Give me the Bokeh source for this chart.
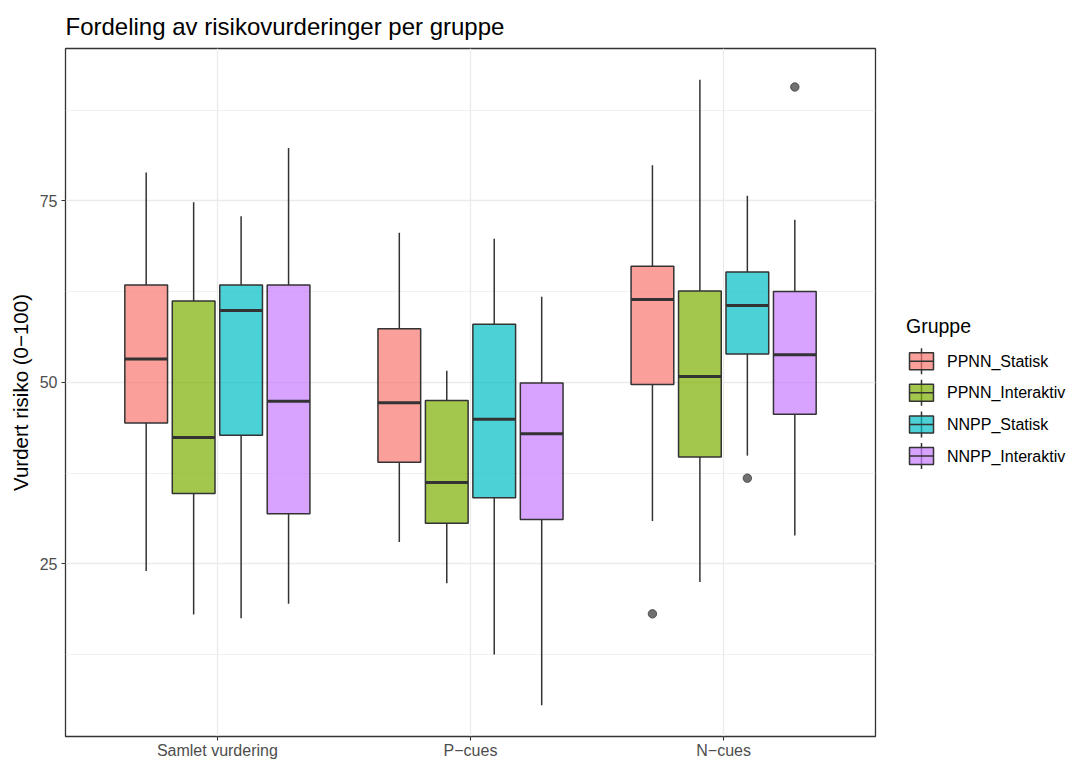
from bokeh.plotting import figure
from bokeh.models import ColumnDataSource, Range1d, FixedTicker
from bokeh.layouts import row
from bokeh.embed import file_html
from bokeh.resources import INLINE
from bokeh.core.properties import value

# ---------------- data ----------------
categories = ["Samlet vurdering", "P\u2212cues", "N\u2212cues"]
groups = ["PPNN_Statisk", "PPNN_Interaktiv", "NNPP_Statisk", "NNPP_Interaktiv"]
colors = ["#F8766D", "#7CAE00", "#00BFC4", "#C77CFF"]

# one row per group, one value per category
whisker_low = [[24.0, 28.0, 30.9], [18.0, 22.3, 22.5], [17.5, 12.5, 39.9], [19.5, 5.5, 28.9]]
q1 = [[44.4, 39.0, 49.7], [34.7, 30.6, 39.7], [42.7, 34.1, 53.9], [31.9, 31.1, 45.6]]
median = [[53.2, 47.2, 61.4], [42.4, 36.2, 50.8], [59.9, 44.9, 60.6], [47.4, 42.9, 53.8]]
q3 = [[63.4, 57.4, 66.0], [61.2, 47.5, 62.6], [63.4, 58.0, 65.2], [63.4, 49.9, 62.5]]
whisker_high = [[78.9, 70.6, 79.9], [74.8, 51.6, 91.7], [72.9, 69.8, 75.7], [82.3, 61.8, 72.4]]

outlier_group = ["PPNN_Statisk", "NNPP_Statisk", "NNPP_Interaktiv"]
outlier_category = ["N\u2212cues", "N\u2212cues", "N\u2212cues"]
outlier_value = [18.1, 36.8, 90.7]

y_ticks = [25, 50, 75]
y_minor = [12.5, 37.5, 62.5, 87.5]

title_text = "Fordeling av risikovurderinger per gruppe"
y_label = "Vurdert risiko (0\u2212100)"
legend_title = "Gruppe"

# ---------------- styling ----------------
FONT = "Liberation Sans"
DARK = "#333333"
GRID = "#EBEBEB"

BORDER_L, BORDER_T, BORDER_B = 65, 48, 24
FRAME_W, FRAME_H = 810, 688
MAIN_W = BORDER_L + FRAME_W + 13
LEG_W = 182

dodge_width = 0.75
slot = dodge_width / len(groups)
box_w = slot * 0.9


def xpos(cat_idx, grp_idx):
    return cat_idx + 1 + (grp_idx - (len(groups) - 1) / 2) * slot


rows = dict(x=[], xl=[], xr=[], lo=[], q1=[], med=[], q3=[], hi=[], color=[])
for gi, g in enumerate(groups):
    for ci, c in enumerate(categories):
        x = xpos(ci, gi)
        rows["x"].append(x)
        rows["xl"].append(x - box_w / 2)
        rows["xr"].append(x + box_w / 2)
        rows["lo"].append(whisker_low[gi][ci])
        rows["q1"].append(q1[gi][ci])
        rows["med"].append(median[gi][ci])
        rows["q3"].append(q3[gi][ci])
        rows["hi"].append(whisker_high[gi][ci])
        rows["color"].append(colors[gi])
src = ColumnDataSource(rows)

out_src = ColumnDataSource(dict(
    x=[xpos(categories.index(c), groups.index(g)) for g, c in zip(outlier_group, outlier_category)],
    y=outlier_value,
))

p = figure(frame_width=FRAME_W, frame_height=FRAME_H,
           x_range=Range1d(0.4, 3.6), y_range=Range1d(1.2, 96.0),
           output_backend="svg", toolbar_location=None,
           min_border_left=BORDER_L, min_border_right=MAIN_W - BORDER_L - FRAME_W,
           min_border_top=BORDER_T, min_border_bottom=BORDER_B)

p.title.text = title_text
p.title.text_font = FONT
p.title.text_font_size = "24px"
p.title.text_font_style = "normal"
p.title.text_color = "#000000"
p.title.standoff = 17

p.outline_line_color = DARK
p.outline_line_width = 1.3
p.background_fill_color = "white"

# axes
p.xaxis.ticker = FixedTicker(ticks=[1, 2, 3])
p.xaxis.major_label_overrides = {i + 1: c for i, c in enumerate(categories)}
p.yaxis.ticker = FixedTicker(ticks=y_ticks, minor_ticks=y_minor)
for ax in (p.xaxis[0], p.yaxis[0]):
    ax.axis_line_color = None
    ax.major_tick_line_color = DARK
    ax.major_tick_line_width = 1.1
    ax.major_tick_out = 4
    ax.major_tick_in = 0
    ax.minor_tick_line_color = None
    ax.major_label_text_font = FONT
    ax.major_label_text_font_size = "16px"
    ax.major_label_text_color = "#4D4D4D"
p.xaxis.major_label_standoff = 1
p.yaxis.major_label_standoff = 4
p.yaxis.axis_label = y_label
p.yaxis.axis_label_text_font = FONT
p.yaxis.axis_label_text_font_size = "20.5px"
p.yaxis.axis_label_text_font_style = "normal"
p.yaxis.axis_label_text_color = "#000000"
p.yaxis.axis_label_standoff = 5

p.xgrid.grid_line_color = GRID
p.xgrid.grid_line_width = 1.3
p.ygrid.grid_line_color = GRID
p.ygrid.grid_line_width = 1.3
p.ygrid.minor_grid_line_color = GRID
p.ygrid.minor_grid_line_width = 0.7

# boxplots
p.segment(x0="x", y0="lo", x1="x", y1="q1", source=src, line_color=DARK, line_width=1.5)
p.segment(x0="x", y0="q3", x1="x", y1="hi", source=src, line_color=DARK, line_width=1.5)
p.vbar(x="x", width=box_w, bottom="q1", top="q3", source=src,
       fill_color="color", fill_alpha=0.7, line_color=DARK, line_width=1.5)
p.segment(x0="xl", y0="med", x1="xr", y1="med", source=src,
          line_color=DARK, line_width=3, line_cap="butt")
p.scatter(x="x", y="y", source=out_src, size=8.5, fill_color=DARK, line_color=DARK,
          fill_alpha=0.7, line_alpha=0.7)

# ---------------- legend panel (page pixel coordinates) ----------------
leg = figure(frame_width=LEG_W, frame_height=FRAME_H,
             x_range=Range1d(MAIN_W, MAIN_W + LEG_W),
             y_range=Range1d(BORDER_T + FRAME_H, BORDER_T),
             output_backend="svg", toolbar_location=None,
             min_border_left=0, min_border_right=0,
             min_border_top=BORDER_T, min_border_bottom=BORDER_B,
             x_axis_location=None, y_axis_location=None)
leg.outline_line_color = None
leg.xgrid.visible = False
leg.ygrid.visible = False

row_y0, row_dy = 360.7, 31.6
key_x, key_w, key_h, whisk_h = 921, 24, 17, 26
n = len(groups)
ly = [row_y0 + i * row_dy for i in range(n)]
lsrc = ColumnDataSource(dict(
    x=[key_x] * n, y=ly,
    ytop=[v - whisk_h / 2 for v in ly], ybot=[v + whisk_h / 2 for v in ly],
    xl=[key_x - key_w / 2] * n, xr=[key_x + key_w / 2] * n,
    color=colors, label=groups, tx=[946.5] * n,
))
leg.segment(x0="x", y0="ytop", x1="x", y1="ybot", source=lsrc, line_color=DARK, line_width=1.5)
leg.rect(x="x", y="y", width=key_w, height=key_h, source=lsrc,
         fill_color="color", fill_alpha=0.7, line_color=DARK, line_width=1.5)
leg.segment(x0="xl", y0="y", x1="xr", y1="y", source=lsrc, line_color=DARK, line_width=1.5)
leg.text(x="tx", y="y", text="label", source=lsrc, text_font=value(FONT),
         text_font_size="16px", text_color="#000000", text_baseline="middle")
leg.text(x=[905.5], y=[325], text=[legend_title], text_font=value(FONT),
         text_font_size="19.5px", text_color="#000000", text_baseline="middle")

layout = row(p, leg)
open("out.html", "w").write(file_html(layout, INLINE))
